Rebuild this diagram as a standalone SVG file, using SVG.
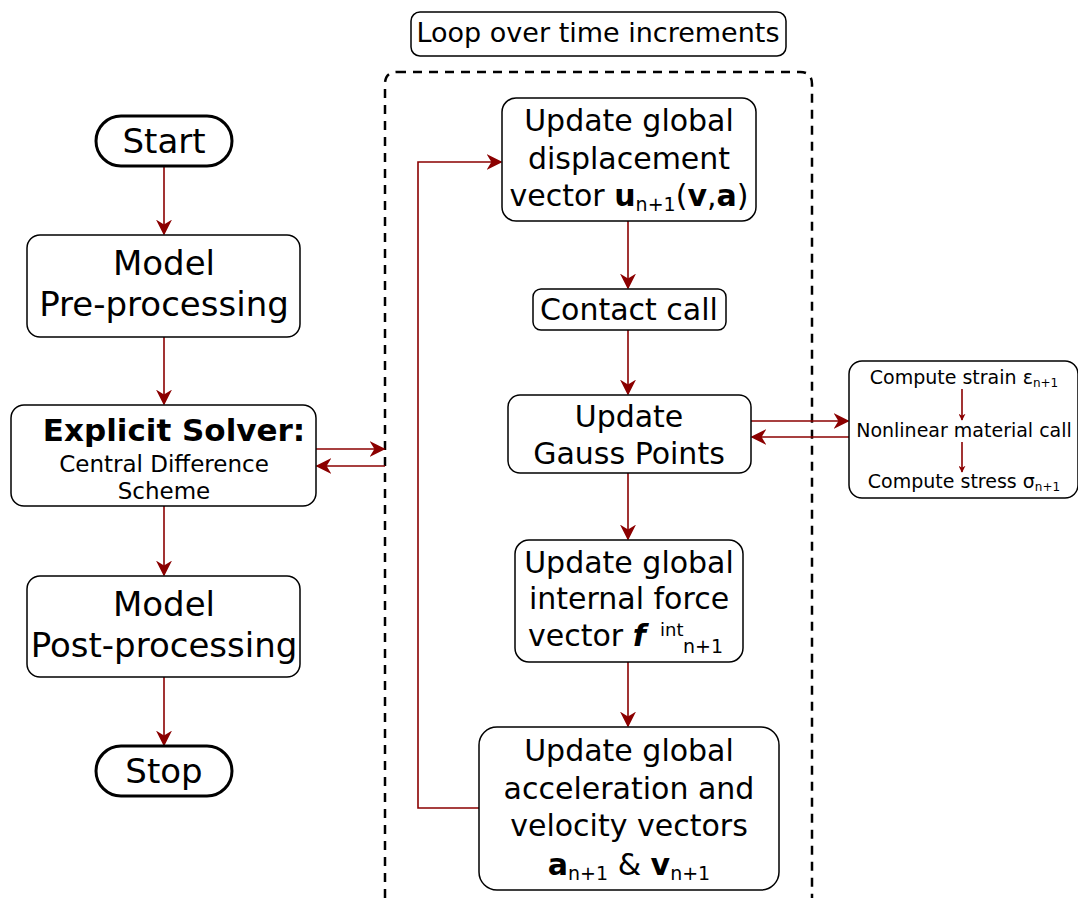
<svg xmlns="http://www.w3.org/2000/svg" width="1078" height="900" viewBox="0 0 1078 900">
<style>
text{font-family:"DejaVu Sans","Verdana",sans-serif;fill:#000;text-anchor:middle}
.box{fill:#fff;stroke:#000;stroke-width:1.5}
.term{fill:#fff;stroke:#000;stroke-width:3}
.c{fill:none;stroke:#8b0000;stroke-width:1.6}
.t28{font-size:30px}
.sub{font-size:19px}
.m{font-size:19px}
</style>
<defs>
<marker id="ahL" viewBox="0 0 10 10" refX="9" refY="5" markerWidth="16" markerHeight="16" markerUnits="userSpaceOnUse" orient="auto">
<path d="M0,0 L10,5 L0,10 L3,5 Z" fill="#8b0000"/>
</marker>
<marker id="ahS" viewBox="0 0 10 10" refX="9" refY="5" markerWidth="7" markerHeight="7" markerUnits="userSpaceOnUse" orient="auto">
<path d="M0,0 L10,5 L0,10 L3,5 Z" fill="#8b0000"/>
</marker>
</defs>

<g id="loop-frame">
<path d="M397,72 L800,72 Q812,72 812,84 L812,898 M385,898 L385,84 Q385,72 397,72" fill="none" stroke="#000" stroke-width="2.5" stroke-dasharray="9,7"/>
</g>

<g id="connectors">
<line class="c" x1="164" y1="166" x2="164" y2="234" marker-end="url(#ahL)"/>
<line class="c" x1="164" y1="337" x2="164" y2="404" marker-end="url(#ahL)"/>
<line class="c" x1="164" y1="506" x2="164" y2="575" marker-end="url(#ahL)"/>
<line class="c" x1="164" y1="677" x2="164" y2="745" marker-end="url(#ahL)"/>
<line class="c" x1="316" y1="449" x2="384" y2="449" marker-end="url(#ahL)"/>
<line class="c" x1="385" y1="466" x2="317" y2="466" marker-end="url(#ahL)"/>
<line class="c" x1="628" y1="221" x2="628" y2="288" marker-end="url(#ahL)"/>
<line class="c" x1="628" y1="330" x2="628" y2="394" marker-end="url(#ahL)"/>
<line class="c" x1="628" y1="473" x2="628" y2="539" marker-end="url(#ahL)"/>
<line class="c" x1="628" y1="662" x2="628" y2="726" marker-end="url(#ahL)"/>
<line class="c" x1="751" y1="421" x2="848" y2="421" marker-end="url(#ahL)"/>
<line class="c" x1="849" y1="437" x2="752" y2="437" marker-end="url(#ahL)"/>
<polyline class="c" points="479,808 418,808 418,162 501,162" marker-end="url(#ahL)"/>
</g>

<g id="start">
<rect class="term" x="96" y="116" width="136" height="50" rx="25"/>
<text x="164" y="153" style="font-size:34px">Start</text>
</g>

<g id="pre">
<rect class="box" x="27" y="235" width="273" height="102" rx="13"/>
<text x="164" y="275" style="font-size:34px">Model</text>
<text x="164" y="316" style="font-size:34px">Pre-processing</text>
</g>

<g id="solver">
<rect class="box" x="11" y="405" width="305" height="101" rx="13"/>
<text x="174" y="441" style="font-size:31px;font-weight:bold">Explicit Solver:</text>
<text x="164" y="472" style="font-size:23px">Central Difference</text>
<text x="164" y="499" style="font-size:23px">Scheme</text>
</g>

<g id="post">
<rect class="box" x="27" y="576" width="273" height="101" rx="13"/>
<text x="164" y="616" style="font-size:34px">Model</text>
<text x="164" y="657" style="font-size:34px">Post-processing</text>
</g>

<g id="stop">
<rect class="term" x="96" y="746" width="136" height="50" rx="25"/>
<text x="164" y="783" style="font-size:34px">Stop</text>
</g>

<g id="loop-label">
<rect class="box" x="411" y="12" width="375" height="44" rx="9"/>
<text x="598" y="42" style="font-size:27px">Loop over time increments</text>
</g>

<g id="disp">
<rect class="box" x="502" y="98" width="254" height="123" rx="14"/>
<text x="629" y="131" class="t28">Update global</text>
<text x="629" y="169" class="t28">displacement</text>
<text x="629" y="206" class="t28">vector <tspan font-weight="bold">u</tspan><tspan class="sub" dy="5">n+1</tspan><tspan dy="-5">(</tspan><tspan font-weight="bold">v</tspan>,<tspan font-weight="bold">a</tspan>)</text>
</g>

<g id="contact">
<rect class="box" x="533" y="289" width="193" height="41" rx="8"/>
<text x="629" y="320" class="t28">Contact call</text>
</g>

<g id="gauss">
<rect class="box" x="508" y="395" width="243" height="78" rx="12"/>
<text x="629" y="427" class="t28">Update</text>
<text x="629" y="464" class="t28">Gauss Points</text>
</g>

<g id="fint">
<rect class="box" x="515" y="540" width="228" height="122" rx="14"/>
<text x="629" y="573" class="t28">Update global</text>
<text x="629" y="609" class="t28">internal force</text>
<text x="528" y="646" class="t28" style="text-anchor:start">vector <tspan font-weight="bold" font-style="italic">f</tspan><tspan x="660" y="636" style="font-size:18px">int</tspan><tspan x="683" y="653" class="sub">n+1</tspan></text>
</g>

<g id="accel">
<rect class="box" x="479" y="727" width="300" height="163" rx="18"/>
<text x="629" y="761" class="t28">Update global</text>
<text x="629" y="799" class="t28">acceleration and</text>
<text x="629" y="836" class="t28">velocity vectors</text>
<text x="629" y="875" class="t28"><tspan font-weight="bold">a</tspan><tspan class="sub" dy="5">n+1</tspan><tspan dy="-5"> &amp; </tspan><tspan font-weight="bold">v</tspan><tspan class="sub" dy="5">n+1</tspan></text>
</g>

<g id="material">
<rect class="box" x="849" y="361" width="229" height="137" rx="13"/>
<text x="964" y="384" class="m">Compute strain ε<tspan style="font-size:12px" dy="3">n+1</tspan></text>
<text x="964" y="437" class="m">Nonlinear material call</text>
<text x="964" y="488" class="m">Compute stress σ<tspan style="font-size:12px" dy="3">n+1</tspan></text>
<line class="c" x1="962" y1="389" x2="962" y2="420" stroke-width="1" marker-end="url(#ahS)"/>
<line class="c" x1="962" y1="442" x2="962" y2="472" stroke-width="1" marker-end="url(#ahS)"/>
</g>
</svg>
